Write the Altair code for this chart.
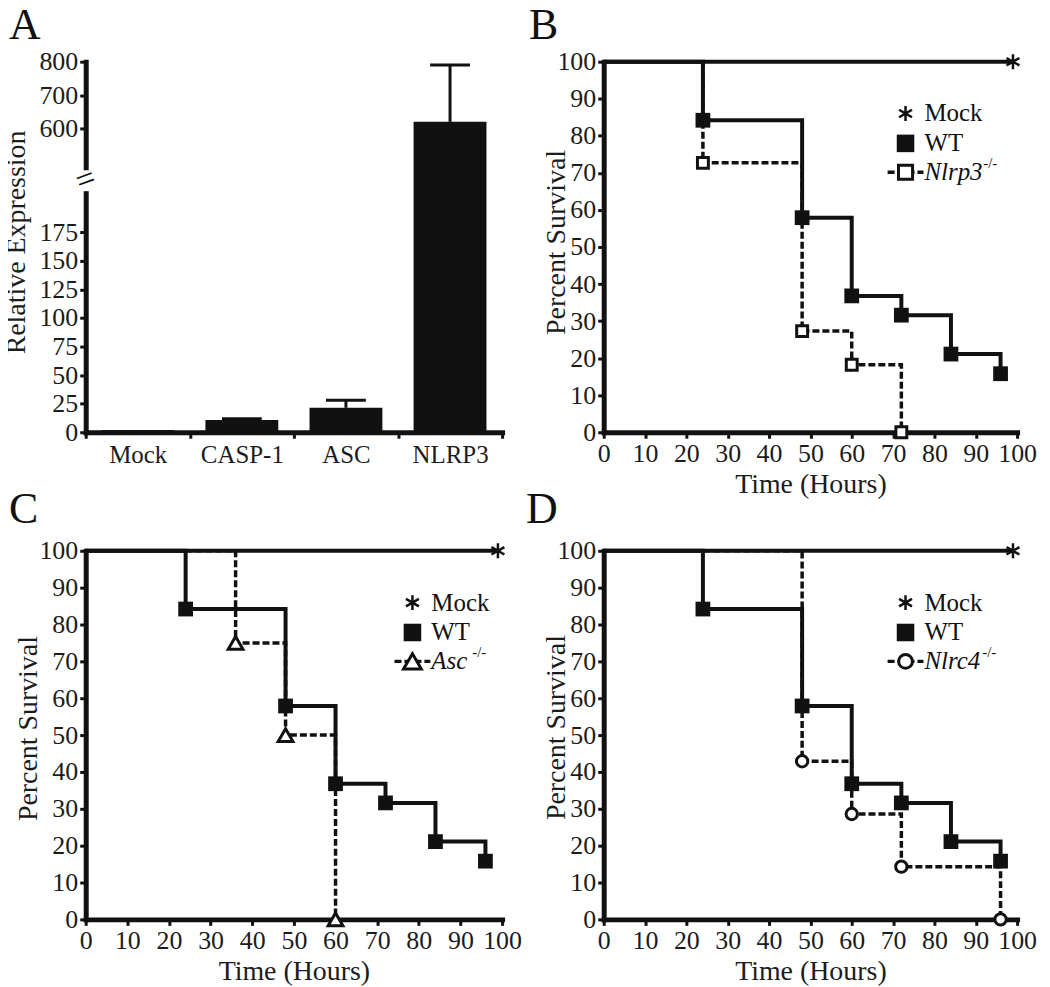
import altair as alt
import pandas as pd

FONT = "Liberation Serif"
INK = "#111111"
TXT = "#1c1c1c"
ASTERISK = "M0,-1L0,1M-0.866,-0.5L0.866,0.5M-0.866,0.5L0.866,-0.5"

# ---------------- Panel A data ----------------
genes = ["Mock", "CASP-1", "ASC", "NLRP3"]
expr_mean = [2.0, 10.7, 21.4, 620.0]
expr_upper = [2.0, 11.9, 28.0, 790.0]
expr_ticks = [0, 25, 50, 75, 100, 125, 150, 175, 600, 700, 800]
expr_domain = [0, 210, 478, 800]  # broken axis: 210 -> 478 is the gap

# ---------------- Survival data ----------------
hour_ticks = [0, 10, 20, 30, 40, 50, 60, 70, 80, 90, 100]
pct_ticks = [0, 10, 20, 30, 40, 50, 60, 70, 80, 90, 100]
mock_t = [0, 99]
mock_s = [100, 100]
wt_t = [0, 24, 48, 60, 72, 84, 96]
wt_s = [100, 84.2, 57.9, 36.8, 31.6, 21.1, 15.8]
nlrp3_t = [0, 24, 48, 60, 72]
nlrp3_s = [100, 72.7, 27.3, 18.2, 0]
asc_t = [0, 36, 48, 60]
asc_s = [100, 75, 50, 0]
nlrc4_t = [0, 48, 60, 72, 96]
nlrc4_s = [100, 42.9, 28.6, 14.3, 0]

# ---------------- layout constants ----------------
W_L, W_R = 418, 415
H_TOP, H_BOT = 372, 370
LABEL_SIZE = 26
TITLE_SIZE = 28
LETTER_SIZE = 44
one = pd.DataFrame({"k": [0]})

AXIS_STYLE = dict(labelFont=FONT, titleFont=FONT, labelColor=TXT, titleColor=TXT,
                  titleFontSize=TITLE_SIZE, titleFontWeight="normal", labelOverlap=False)


def txt(text, x, y, size=25, italic=False, baseline="middle", align="left"):
    return alt.Chart(one).mark_text(
        text=text, font=FONT, fontSize=size, align=align, baseline=baseline,
        color=INK, fontStyle="italic" if italic else "normal",
    ).encode(x=alt.value(x), y=alt.value(y))


# ---------------- Panel A ----------------
dfA = pd.DataFrame({"gene": genes, "mean": expr_mean, "upper": expr_upper})
xA = alt.X("gene:N", sort=genes, scale=alt.Scale(paddingInner=0, paddingOuter=0),
           axis=alt.Axis(title=None, tickBand="extent", labelAngle=0, labelPadding=4,
                         labelFontSize=25, **AXIS_STYLE))
yscaleA = alt.Scale(domain=expr_domain, range=[H_TOP, H_TOP - 241, 108, 0], nice=False, zero=False)
yaxisA = alt.Axis(values=expr_ticks, title="Relative Expression", titleX=-55, titleY=181,
                  labelFontSize=LABEL_SIZE, **AXIS_STYLE)

barsA = alt.Chart(dfA).mark_bar(color=INK, width=alt.RelativeBandSize(0.7)).encode(
    x=xA, y=alt.Y("mean:Q", scale=yscaleA, axis=yaxisA, stack=None))
errA = alt.Chart(dfA).mark_rule(color=INK, strokeWidth=3).encode(
    x=xA, y=alt.Y("mean:Q", scale=yscaleA, axis=yaxisA), y2="upper:Q")
capA = alt.Chart(dfA).transform_filter("datum.upper > datum.mean").mark_tick(
    color=INK, size=40, thickness=3, opacity=1).encode(
    x=xA, y=alt.Y("upper:Q", scale=yscaleA, axis=yaxisA))
gapA = alt.Chart(one).mark_rect(color="white").encode(
    x=alt.value(-9), x2=alt.value(9), y=alt.value(109), y2=alt.value(130))
brkA = alt.Chart(one).mark_text(text="=", font=FONT, fontSize=34, angle=340, color=INK,
                                align="center", baseline="middle").encode(
    x=alt.value(0), y=alt.value(119))
panelA = alt.layer(barsA, errA, capA, gapA, brkA,
                   txt("A", -77, -23, size=LETTER_SIZE, baseline="alphabetic")).properties(
    width=W_L, height=H_TOP)


# ---------------- Survival panels ----------------
def survival(ko_t, ko_s, ko_name, ko_shape, ko_size, ko_leg_size, sup_dx,
             letter, letter_xy, w, h, ytitle_x, ytitle_y, lx):
    x = alt.X("t:Q", scale=alt.Scale(domain=[0, 100], nice=False, zero=False),
              axis=alt.Axis(values=hour_ticks, title="Time (Hours)", labelFlush=False,
                            labelFontSize=LABEL_SIZE, **AXIS_STYLE))
    y = alt.Y("s:Q", scale=alt.Scale(domain=[0, 100], nice=False),
              axis=alt.Axis(values=pct_ticks, title="Percent Survival", titleX=ytitle_x,
                            titleY=ytitle_y, labelFontSize=LABEL_SIZE, **AXIS_STYLE))
    mock = pd.DataFrame({"t": mock_t, "s": mock_s})
    wt = pd.DataFrame({"t": wt_t, "s": wt_s})
    ko = pd.DataFrame({"t": ko_t, "s": ko_s})

    ko_line = alt.Chart(ko).mark_line(interpolate="step-after", color=INK, strokeWidth=3.5,
                                      strokeDash=[7, 3]).encode(x=x, y=y)
    wt_line = alt.Chart(wt).mark_line(interpolate="step-after", color=INK,
                                      strokeWidth=4).encode(x=x, y=y)
    mock_line = alt.Chart(mock).mark_line(color=INK, strokeWidth=4).encode(x=x, y=y)
    ko_pts = alt.Chart(ko).transform_filter("datum.t > 0").mark_point(
        shape=ko_shape, filled=True, fill="white", stroke=INK, strokeWidth=3,
        size=ko_size, opacity=1).encode(x=x, y=y)
    wt_pts = alt.Chart(wt).transform_filter("datum.t > 0").mark_point(
        shape="square", filled=True, color=INK, size=220, opacity=1).encode(x=x, y=y)
    mock_pt = alt.Chart(mock).transform_filter("datum.t > 0").mark_point(
        shape=ASTERISK, filled=False, color=INK, strokeWidth=2.5, size=225,
        opacity=1).encode(x=x, y=y)

    rows = [52, 82, 111]
    base = alt.Chart(one)
    leg = [
        base.mark_point(shape=ASTERISK, filled=False, color=INK, strokeWidth=2.5, size=225,
                        opacity=1).encode(x=alt.value(lx), y=alt.value(rows[0])),
        base.mark_point(shape="square", filled=True, color=INK, size=310,
                        opacity=1).encode(x=alt.value(lx), y=alt.value(rows[1])),
        base.mark_rule(color=INK, strokeWidth=3.5, strokeDash=[7, 3]).encode(
            x=alt.value(lx - 18), x2=alt.value(lx + 18), y=alt.value(rows[2])),
        base.mark_point(shape=ko_shape, filled=True, fill="white", stroke=INK,
                        strokeWidth=3, size=ko_leg_size, opacity=1).encode(
            x=alt.value(lx), y=alt.value(rows[2])),
        txt("Mock", lx + 19, rows[0]),
        txt("WT", lx + 19, rows[1]),
        txt(ko_name, lx + 19, rows[2], italic=True),
        txt("-/-", lx + 19 + sup_dx, rows[2] - 9, size=15),
        txt(letter, letter_xy[0], letter_xy[1], size=LETTER_SIZE, baseline="alphabetic"),
    ]
    return alt.layer(ko_line, wt_line, mock_line, ko_pts, wt_pts, mock_pt, *leg).properties(
        width=w, height=h)


panelB = survival(nlrp3_t, nlrp3_s, "Nlrp3", "square", 120, 200, 59,
                  "B", (-75, -23), W_R, H_TOP, -33, 181, 303)
panelC = survival(asc_t, asc_s, "Asc", "triangle-up", 220, 320, 41,
                  "C", (-77, -28), W_L, H_BOT, -43, 178, 328)
panelD = survival(nlrc4_t, nlrc4_s, "Nlrc4", "circle", 130, 190, 58,
                  "D", (-78, -28), W_R, H_BOT, -33, 177, 303)

chart = alt.concat(panelA, panelB, panelC, panelD, columns=2,
                   spacing={"row": 119, "column": 102}, bounds="flush").properties(
    padding={"left": -5, "top": -6, "right": 5, "bottom": 5}
).configure_axis(
    domainColor=INK, domainWidth=5, domainCap="square", tickColor=INK, tickWidth=3,
    tickSize=6, labelFont=FONT, labelColor=TXT, labelPadding=2, titleFont=FONT,
    titleFontSize=TITLE_SIZE, titleFontWeight="normal", titleColor=TXT, grid=False,
).configure_view(stroke=None)

chart.save("out.html", embed_options={"renderer": "svg", "actions": False})
